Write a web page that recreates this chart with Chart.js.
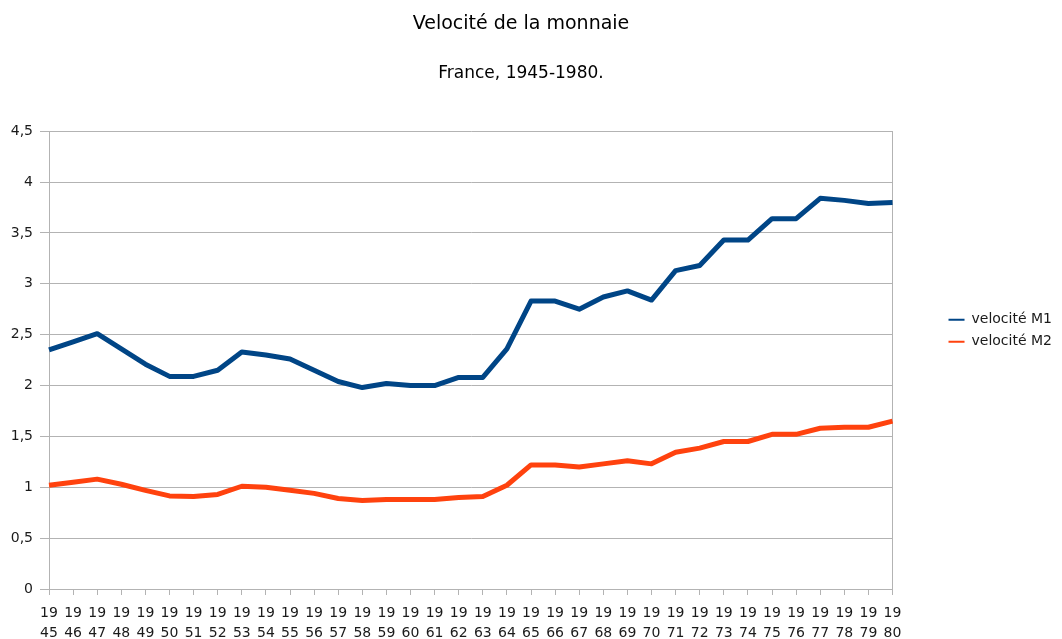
<!DOCTYPE html>
<html>
<head>
<meta charset="utf-8">
<title>Velocité de la monnaie</title>
<script src="https://cdn.jsdelivr.net/npm/chart.js@4.4.1/dist/chart.umd.min.js"></script>
<style>
  html, body { margin: 0; padding: 0; background: #fff; }
  #wrap { width: 1062px; height: 639px; }
</style>
</head>
<body>
<div id="wrap"><canvas id="chart" width="1062" height="639"></canvas></div>
<script>
// data
const years = [
  1945, 1946, 1947, 1948, 1949, 1950, 1951, 1952, 1953, 1954, 1955, 1956,
  1957, 1958, 1959, 1960, 1961, 1962, 1963, 1964, 1965, 1966, 1967, 1968,
  1969, 1970, 1971, 1972, 1973, 1974, 1975, 1976, 1977, 1978, 1979, 1980
];
const velociteM1 = [
  2.35, 2.43, 2.51, 2.36, 2.21, 2.09, 2.09, 2.15, 2.33, 2.30, 2.26, 2.15,
  2.04, 1.98, 2.02, 2.00, 2.00, 2.08, 2.08, 2.36, 2.83, 2.83, 2.75, 2.87,
  2.93, 2.84, 3.13, 3.18, 3.43, 3.43, 3.64, 3.64, 3.84, 3.82, 3.79, 3.80
];
const velociteM2 = [
  1.02, 1.05, 1.08, 1.03, 0.97, 0.915, 0.91, 0.93, 1.01, 1.00, 0.97, 0.94,
  0.89, 0.87, 0.88, 0.88, 0.88, 0.90, 0.91, 1.02, 1.22, 1.22, 1.20, 1.23,
  1.26, 1.23, 1.345, 1.385, 1.45, 1.45, 1.52, 1.52, 1.58, 1.59, 1.59, 1.65
];
const seriesNames = ["velocité M1", "velocité M2"];
const yMin = 0, yMax = 4.5, yStep = 0.5;

const FONT = "'DejaVu Sans', sans-serif";
const GRID = "#b3b3b3";
const TEXT = "#1a1a1a";

// "1945" -> ["19", "45"], the year is broken over two lines like the original
const xLabels = years.map((y) => [String(y).slice(0, 2), String(y).slice(2)]);

const ctx = document.getElementById("chart");

new Chart(ctx, {
  type: "line",
  data: {
    labels: xLabels,
    datasets: [
      {
        label: seriesNames[0],
        data: velociteM1,
        borderColor: "#004586",
        backgroundColor: "#004586",
        borderWidth: 5,
        pointRadius: 0,
        tension: 0,
        borderJoinStyle: "round",
      },
      {
        label: seriesNames[1],
        data: velociteM2,
        borderColor: "#ff420e",
        backgroundColor: "#ff420e",
        borderWidth: 5,
        pointRadius: 0,
        tension: 0,
        borderJoinStyle: "round",
      },
    ],
  },
  options: {
    responsive: false,
    animation: false,
    events: [],
    layout: {
      padding: { left: -20, right: 0, top: 0, bottom: 0 },
    },
    plugins: {
      title: {
        display: true,
        text: "Velocité de la monnaie",
        color: "#000",
        font: { family: FONT, size: 19, weight: "normal", lineHeight: 1.2 },
        padding: { top: 13, bottom: 14 },
      },
      subtitle: {
        display: true,
        text: "France, 1945-1980.",
        color: "#000",
        font: { family: FONT, size: 17, weight: "normal", lineHeight: 1.2 },
        padding: { top: 14, bottom: 47 },
      },
      legend: {
        position: "right",
        align: "center",
        title: {
          // empty title only to push the two entries down a little
          display: true,
          text: "",
          padding: { top: 0, bottom: 8 },
          font: { family: FONT, size: 12 },
        },
        labels: {
          usePointStyle: true,
          pointStyle: "line",
          pointStyleWidth: 16,
          padding: 8,
          color: TEXT,
          font: { family: FONT, size: 14 },
          generateLabels: (chart) => {
            const items = Chart.defaults.plugins.legend.labels.generateLabels(chart);
            items.forEach((it) => { it.lineWidth = 2; });
            return items;
          },
        },
      },
      tooltip: { enabled: false },
    },
    scales: {
      x: {
        offset: false,
        afterFit: (s) => { s.height = 50; },
        grid: {
          display: true,
          drawOnChartArea: false,
          drawTicks: true,
          tickLength: 6,
          color: GRID,
        },
        border: { display: true, color: GRID, width: 1 },
        ticks: {
          autoSkip: false,
          maxRotation: 0,
          minRotation: 0,
          padding: 9,
          color: TEXT,
          font: { family: FONT, size: 14, lineHeight: 1.4 },
        },
      },
      y: {
        min: yMin,
        max: yMax,
        afterFit: (s) => { s.width = 69; },
        grid: {
          color: GRID,
          tickLength: 9,
        },
        border: { display: true, color: GRID, width: 1 },
        ticks: {
          stepSize: yStep,
          padding: 7,
          color: TEXT,
          font: { family: FONT, size: 14 },
          callback: (v) => String(v).replace(".", ","),
        },
      },
      // blank right axis: only gives the right border and the gap before the legend
      yRight: {
        type: "linear",
        position: "right",
        min: yMin,
        max: yMax,
        afterFit: (s) => { s.width = 48; },
        grid: { display: false },
        border: { display: true, color: GRID, width: 1 },
        ticks: { display: false },
      },
    },
  },
});
</script>
</body>
</html>
